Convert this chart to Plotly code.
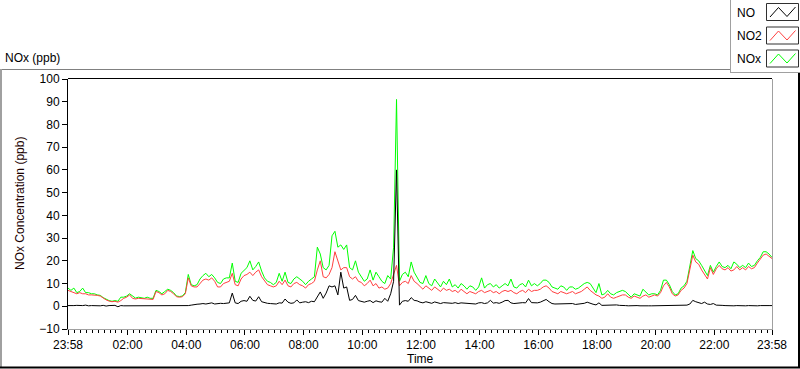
import pandas as pd
import plotly.graph_objects as go

# ---------------- data (6-minute samples, 23:58 -> 23:58 next day) ----------------
start_time = "2024-01-01 23:58"
end_time = "2024-01-02 23:58"

no_ppb = [
    0.3, 0.2, 0.3, 0.4, 0.2, 0.3, 0.5, 0.2, 0.3, 0.2,
    0.3, 0.2, 0.4, 0.1, 0.3, 0.2, 0.4, -0.2, 0.3, 0.2,
    0.2, 0.4, 0.3, 0.2, 0.1, 0.3, 0.2, 0.4, 0.2, 0.3,
    0.2, 0.3, 0.2, 0.2, 0.1, 0.3, 0.2, 0.2, 0.3, 0.4,
    0.4, 0.3, 0.5, 0.8, 0.9, 1.0, 1.2, 1.0, 1.3, 1.5,
    1.0, 1.2, 1.3, 1.2, 1.4, 1.5, 5.8, 1.5, 1.2, 2.2,
    2.5, 2.2, 4.4, 2.6, 2.3, 4.2, 2.0, 1.5, 1.3, 1.2,
    1.2, 1.0, 1.5, 1.4, 3.2, 1.8, 1.3, 1.5, 2.8, 1.5,
    1.8, 2.0, 1.6, 2.2, 2.0, 4.5, 6.3, 3.5, 5.8, 9.0,
    8.5, 9.0, 5.0, 15.0, 8.0, 8.5, 2.6, 3.0, 4.8, 2.5,
    2.0, 1.8, 2.2, 2.5, 1.6, 2.4, 2.0, 1.8, 3.5, 2.2,
    5.5, 11.0, 60.0, 0.5, 2.2, 2.5, 2.2, 3.8, 2.6, 2.4,
    1.8, 1.5, 2.0, 1.6, 1.3, 1.9, 1.4, 1.2, 1.6, 1.5,
    1.5, 1.3, 1.6, 1.2, 1.5, 1.4, 1.1, 1.3, 1.2, 1.0,
    1.5, 1.6, 1.2, 1.5, 2.6, 1.4, 1.6, 1.3, 1.8, 2.5,
    2.6, 1.5, 1.2, 1.4, 1.3, 1.6, 1.5, 3.4, 1.6, 1.5,
    1.5, 1.8, 2.5, 3.0, 2.0, 1.2, 1.0, 1.0, 1.1, 0.9,
    0.9, 1.0, 1.2, 0.8, 1.0, 0.9, 1.3, 1.8, 1.2, 0.9,
    0.6, 1.5, 0.4, 0.5, 0.6, 0.4, 0.5, 0.6, 0.4, 0.5,
    0.3, 0.2, 0.3, 0.2, 0.3, 0.2, 0.1, 0.3, 0.2, 0.2,
    0.2, 0.3, 0.3, 0.4, 0.3, 0.2, 0.2, 0.3, 0.2, 0.3,
    0.3, 0.5, 1.0, 2.6, 2.0, 1.5, 1.2, 1.8, 1.0, 0.8,
    1.2, 0.5, 0.3, 0.4, 0.3, 0.2, 0.3, 0.2, 0.3, 0.2,
    0.3, 0.2, 0.3, 0.2, 0.3, 0.2, 0.3, 0.4, 0.3, 0.3,
    0.3,
]

no2_ppb = [
    7.0, 6.5, 6.0, 5.5, 6.0, 5.5, 5.5, 5.0, 5.0, 5.0,
    4.8, 4.5, 3.5, 2.8, 2.3, 2.0, 2.2, 1.8, 2.5, 3.5,
    4.0, 5.0, 3.5, 3.2, 3.5, 3.4, 3.3, 3.5, 3.2, 3.0,
    6.5, 6.0, 5.0, 5.5, 7.0, 6.5, 5.5, 4.2, 4.0, 4.2,
    5.5, 12.5, 9.0, 8.5, 8.5, 10.0, 11.5, 12.0, 11.5, 12.5,
    11.0, 8.5, 8.5, 10.0, 10.5, 11.0, 14.5, 9.5, 9.0, 12.0,
    13.5, 14.0, 15.0, 13.5, 15.0, 16.0, 13.0, 11.0, 9.5, 9.0,
    8.5, 9.0, 11.0, 9.5, 11.5, 9.0, 8.5, 10.0, 10.5, 9.5,
    9.0, 8.0, 9.5, 10.0, 11.0, 16.0, 20.0, 13.0, 12.5, 14.0,
    17.0, 24.0, 20.0, 16.0, 17.0, 17.0, 13.0, 12.0, 13.0, 11.0,
    10.5, 9.0, 10.0, 11.5, 9.0, 10.0, 8.0, 8.5, 7.5, 8.0,
    10.0, 14.0, 18.0, 9.0, 10.5, 11.0, 10.0, 13.5, 11.0, 10.0,
    8.5, 7.5, 9.0, 8.0, 7.0, 8.5, 7.5, 6.5, 8.0, 7.0,
    7.5, 6.5, 7.0, 6.0, 7.5, 6.5, 5.5, 6.5, 6.0, 5.5,
    6.5, 7.0, 6.0, 6.5, 7.0, 6.0, 6.5, 5.5, 6.5, 7.0,
    6.5, 7.0, 6.0, 5.5, 6.5, 7.0, 6.0, 7.5, 6.5, 7.0,
    7.0, 7.5, 8.5, 9.0, 8.0, 6.5, 6.0, 5.5, 6.5, 6.0,
    5.5, 6.0, 6.5, 5.5, 6.0, 6.5, 7.5, 8.5, 7.0, 6.0,
    5.0, 4.5, 3.5, 4.0, 5.5, 4.0, 3.5, 4.0, 4.5, 5.0,
    5.0, 4.0, 3.5, 4.5, 4.0, 3.5, 4.5, 5.0, 4.0, 4.5,
    5.0, 4.5, 6.0, 9.0, 10.5, 8.5, 5.5, 4.5, 5.0, 7.0,
    8.0, 10.0, 16.0, 22.5, 19.5, 18.5, 16.0, 14.0, 12.0, 17.0,
    14.0, 16.5, 18.0, 16.5, 16.0, 17.0, 15.5, 16.0, 17.5, 16.0,
    17.0, 16.0, 17.5, 16.5, 17.0, 19.0, 20.5, 22.5, 23.0, 22.0,
    21.0,
]

nox_ppb = [
    8.0, 7.0, 8.0, 6.0, 6.5, 8.0, 6.0, 6.0, 5.5, 5.5,
    5.0, 4.8, 3.8, 3.0, 2.5, 2.2, 2.5, 2.2, 4.0, 4.0,
    4.5, 5.5, 4.5, 3.6, 4.0, 3.8, 3.5, 4.0, 3.5, 3.5,
    7.0, 6.5, 5.5, 6.5, 7.5, 7.0, 6.0, 4.5, 4.3, 4.5,
    6.0, 14.0, 9.5, 9.0, 9.5, 12.0, 13.5, 14.5, 13.0, 14.0,
    12.5, 10.5, 10.0, 12.0, 12.5, 12.5, 19.0, 11.0, 10.5, 14.5,
    16.0, 17.0, 20.0, 16.0, 17.5, 19.5, 15.5, 12.5, 11.0, 10.5,
    9.5, 10.5, 14.5, 11.0, 15.0, 10.5, 10.0, 12.0, 13.0, 12.0,
    11.0, 9.5, 11.0, 12.0, 13.0, 26.0, 23.0, 17.0, 16.0, 18.0,
    31.0, 33.0, 26.0, 27.0, 25.0, 27.0, 17.0, 16.0, 20.0, 15.0,
    13.0, 11.0, 12.0, 16.0, 11.5, 15.0, 13.0, 11.0, 10.0, 13.5,
    12.0, 26.0, 91.0, 11.0, 14.0, 15.0, 13.0, 19.5, 15.0, 13.0,
    10.5, 10.0, 13.5, 10.0, 9.0, 12.0, 10.0, 8.5, 11.0, 9.5,
    12.0, 8.5, 9.5, 8.0, 10.0, 9.0, 7.5, 9.0, 8.5, 7.0,
    8.5, 12.5, 8.0, 9.5, 10.0, 8.5, 9.5, 8.0, 9.0, 10.0,
    9.0, 12.0, 8.5, 8.0, 9.5, 10.0, 8.5, 11.5, 9.0, 10.0,
    9.0, 10.0, 11.5, 11.5, 10.5, 8.5, 8.0, 7.5, 9.0, 8.5,
    7.0, 8.5, 8.5, 7.5, 8.0, 9.0, 10.0, 10.5, 10.0, 8.0,
    6.0, 10.0, 5.0, 5.5, 7.0, 5.5, 5.0, 6.0, 6.5, 7.0,
    6.5, 5.0, 4.0, 5.5, 5.0, 4.5, 7.5, 6.0, 5.0, 5.5,
    5.5, 5.0, 7.0, 11.5, 11.5, 9.5, 6.5, 5.0, 5.5, 8.0,
    9.0, 11.0, 17.0, 24.5, 21.0, 20.0, 18.0, 16.0, 13.5, 18.0,
    15.0, 17.5, 19.5, 17.5, 17.0, 18.0, 16.5, 19.5, 18.5, 17.0,
    18.0, 17.0, 19.0, 17.5, 18.0, 20.0, 21.5, 24.0, 24.0, 23.0,
    21.5,
]

series_names = ["NO", "NO2", "NOx"]
series_colors = {"NO": "#000000", "NO2": "#ff4040", "NOx": "#00ff00"}

x_tick_times = ["2024-01-01 23:58", "2024-01-02 02:00", "2024-01-02 04:00",
                "2024-01-02 06:00", "2024-01-02 08:00", "2024-01-02 10:00",
                "2024-01-02 12:00", "2024-01-02 14:00", "2024-01-02 16:00",
                "2024-01-02 18:00", "2024-01-02 20:00", "2024-01-02 22:00",
                "2024-01-02 23:58"]
x_tick_labels = ["23:58", "02:00", "04:00", "06:00", "08:00", "10:00", "12:00",
                 "14:00", "16:00", "18:00", "20:00", "22:00", "23:58"]
y_ticks = [-10, 0, 10, 20, 30, 40, 50, 60, 70, 80, 90, 100]

times = pd.date_range(start_time, periods=len(no_ppb), freq="6min")
series_values = {"NO": no_ppb, "NO2": no2_ppb, "NOx": nox_ppb}

# ---------------- layout geometry (pixels) ----------------
FW, FH = 800, 369
L, R, T, B = 68, 772, 79, 329
PW, PH = R - L, B - T


def px(x):
    return (x - L) / PW


def py(y):
    return (B - y) / PH


FONT = "Liberation Sans, Arial, sans-serif"

fig = go.Figure()
for name in ["NOx", "NO2", "NO"]:
    fig.add_trace(go.Scatter(
        x=times, y=series_values[name], mode="lines", name=name,
        line=dict(color=series_colors[name], width=1),
        showlegend=False, hoverinfo="skip"))

shapes = []


def hline(x0, x1, y, color, w=1):
    shapes.append(dict(type="line", xref="paper", yref="paper",
                       x0=px(x0), x1=px(x1), y0=py(y), y1=py(y),
                       line=dict(color=color, width=w)))


def vline(x, y0, y1, color, w=1):
    shapes.append(dict(type="line", xref="paper", yref="paper",
                       x0=px(x), x1=px(x), y0=py(y0), y1=py(y1),
                       line=dict(color=color, width=w)))


# plot frame: top black, right gray
hline(L, R, T - 0.5, "#000000")
vline(R + 0.5, T, B + 1, "#a0a0a0")

# outer panel frame
hline(0, 730, 69.5, "#808080")
vline(1, 69, 368, "#a0a0a0", 2)
hline(0, 800, 367.5, "#000000", 2)
vline(799, 72, 368, "#000000", 2)

# legend frame
vline(730.5, 0, 72.5, "#a0a0a0")
hline(730, 800, 72.5, "#a0a0a0")

annotations = []
legend_rows = [("NO", 3.5, 13), ("NO2", 27, 36), ("NOx", 50, 59)]
for name, top, yc in legend_rows:
    shapes.append(dict(type="rect", xref="paper", yref="paper",
                       x0=px(766.5), x1=px(798.5), y0=py(top), y1=py(top + 17),
                       line=dict(color="#303030", width=1), fillcolor="white"))
    pts = [(770, top + 13.5), (778.5, top + 4), (787, top + 13), (795.5, top + 3.5)]
    path = "M " + " L ".join(f"{px(a)},{py(b)}" for a, b in pts)
    shapes.append(dict(type="path", xref="paper", yref="paper", path=path,
                       line=dict(color=series_colors[name], width=1)))
    annotations.append(dict(text=name, xref="paper", yref="paper",
                            x=px(735), y=py(yc), xanchor="left", yanchor="middle",
                            showarrow=False, font=dict(size=12, color="#000000", family=FONT)))

annotations += [
    dict(text="NOx (ppb)", xref="paper", yref="paper", x=px(3), y=py(58),
         xanchor="left", yanchor="middle", showarrow=False,
         font=dict(size=12, color="#000000", family=FONT)),
    dict(text="NOx Concentration (ppb)", xref="paper", yref="paper",
         x=px(20), y=py(204), xanchor="center", yanchor="middle", textangle=-90,
         showarrow=False, font=dict(size=12, color="#1a0000", family=FONT)),
    dict(text="Time", xref="paper", yref="paper", x=px(420), y=py(359),
         xanchor="center", yanchor="middle", showarrow=False,
         font=dict(size=12, color="#000000", family=FONT)),
]

fig.update_layout(
    width=FW, height=FH,
    margin=dict(l=L, r=FW - R, t=T, b=FH - B, autoexpand=False),
    paper_bgcolor="white", plot_bgcolor="white",
    font=dict(family=FONT, size=12, color="#000000"),
    shapes=shapes, annotations=annotations, showlegend=False,
    xaxis=dict(
        type="date", range=[start_time, end_time],
        tickmode="array", tickvals=x_tick_times, ticktext=x_tick_labels,
        ticks="outside", ticklen=5, tickwidth=1, tickcolor="#000000",
        showline=True, linecolor="#a0a0a0", linewidth=1,
        showgrid=False, zeroline=False,
        tickfont=dict(size=12, color="#000000", family=FONT),
        minor=dict(tickmode="linear", tick0="2024-01-02 00:00", dtick=12 * 60 * 1000,
                   ticks="outside", ticklen=3, tickcolor="#000000", showgrid=False),
    ),
    yaxis=dict(
        range=[-10, 100], tickmode="array", tickvals=y_ticks,
        ticks="outside", ticklen=5, tickwidth=1, tickcolor="#000000",
        showline=True, linecolor="#000000", linewidth=1,
        showgrid=False, zeroline=False,
        tickfont=dict(size=12, color="#000000", family=FONT),
    ),
)

fig.write_html(
    "out.html",
    config={"displayModeBar": False},
    post_script="document.body.style.margin='0px';document.body.style.overflow='hidden';",
)
